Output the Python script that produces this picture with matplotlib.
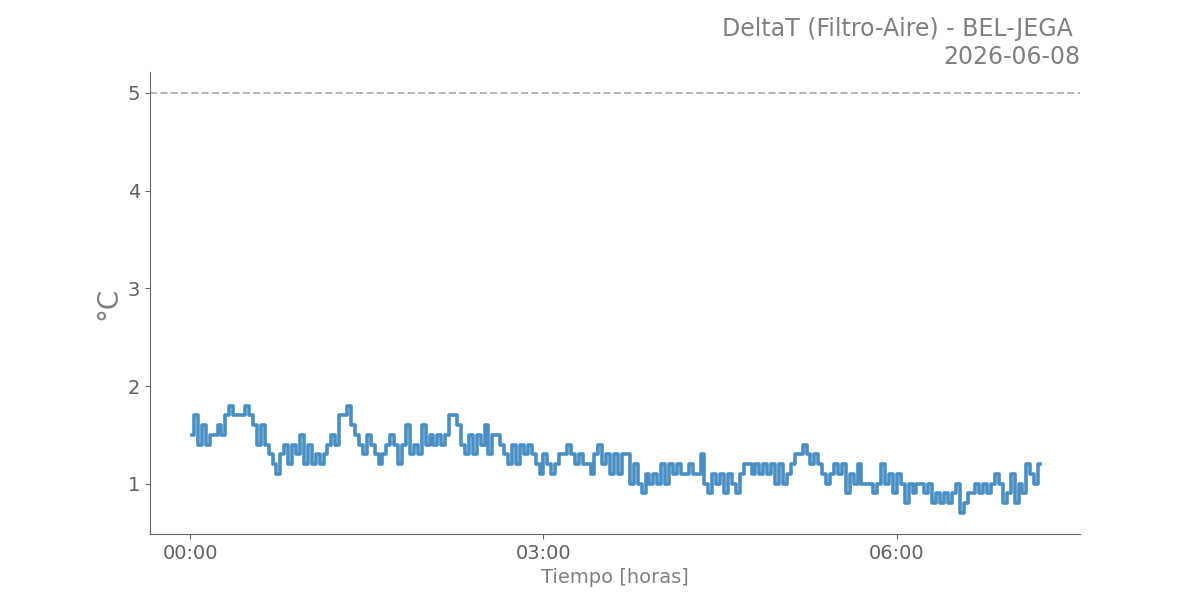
import numpy as np
import pandas as pd
import matplotlib
matplotlib.use("Agg")
import matplotlib.pyplot as plt
import matplotlib.dates as mdates

# -------------------------------------------------
# Data: DeltaT readings every 2 minutes
# -------------------------------------------------
delta_t = [
    1.5, 1.7, 1.4, 1.6, 1.4, 1.5, 1.5, 1.6, 1.5, 1.7,
    1.8, 1.7, 1.7, 1.7, 1.8, 1.7, 1.6, 1.4, 1.6, 1.4,
    1.3, 1.2, 1.1, 1.3, 1.4, 1.2, 1.4, 1.3, 1.5, 1.2,
    1.4, 1.2, 1.3, 1.2, 1.3, 1.4, 1.5, 1.4, 1.7, 1.7,
    1.8, 1.6, 1.5, 1.4, 1.3, 1.5, 1.4, 1.3, 1.2, 1.3,
    1.4, 1.5, 1.4, 1.2, 1.4, 1.6, 1.3, 1.4, 1.3, 1.6,
    1.4, 1.5, 1.4, 1.5, 1.4, 1.5, 1.7, 1.7, 1.6, 1.4,
    1.3, 1.5, 1.3, 1.5, 1.4, 1.6, 1.3, 1.5, 1.5, 1.4,
    1.3, 1.2, 1.4, 1.2, 1.4, 1.3, 1.4, 1.3, 1.2, 1.1,
    1.3, 1.2, 1.1, 1.2, 1.3, 1.3, 1.4, 1.3, 1.2, 1.3,
    1.2, 1.2, 1.1, 1.3, 1.4, 1.2, 1.3, 1.1, 1.3, 1.1,
    1.3, 1.3, 1.0, 1.2, 1.0, 0.9, 1.1, 1.0, 1.1, 1.0,
    1.2, 1.0, 1.2, 1.1, 1.2, 1.1, 1.1, 1.2, 1.1, 1.1,
    1.3, 1.0, 0.9, 1.1, 1.0, 1.1, 0.9, 1.1, 1.0, 0.9,
    1.1, 1.2, 1.2, 1.1, 1.2, 1.1, 1.2, 1.1, 1.2, 1.0,
    1.2, 1.0, 1.1, 1.2, 1.3, 1.3, 1.4, 1.3, 1.2, 1.3,
    1.2, 1.1, 1.0, 1.1, 1.2, 1.1, 1.2, 0.9, 1.1, 1.0,
    1.2, 1.0, 1.0, 1.0, 0.9, 1.0, 1.2, 1.0, 1.1, 0.9,
    1.1, 1.0, 0.8, 1.0, 0.9, 1.0, 1.0, 0.9, 1.0, 0.8,
    0.9, 0.8, 0.9, 0.8, 0.9, 1.0, 0.7, 0.8, 0.9, 0.9,
    1.0, 0.9, 1.0, 0.9, 1.0, 1.1, 1.0, 0.8, 0.9, 1.1,
    0.8, 1.0, 0.9, 1.2, 1.1, 1.0, 1.2,
]
threshold = 5.0
title_text = "DeltaT (Filtro-Aire) - BEL-JEGA \n2026-06-08"

times = pd.date_range("2026-06-08 00:01", periods=len(delta_t), freq="2min")

# -------------------------------------------------
# Plot
# -------------------------------------------------
fig = plt.figure(figsize=(12, 6), dpi=100)
ax = fig.add_axes([0.125, 0.11, 0.775, 0.77])

ax.plot(times, delta_t, color="#4a8fc4", linewidth=2.6, drawstyle="steps-mid")
ax.axhline(threshold, color="#b5b5b5", linestyle="--", linewidth=1.4)

day = pd.Timestamp("2026-06-08 00:00")
ax.set_xlim(day - pd.Timedelta(minutes=20.4), day + pd.Timedelta(minutes=453.3))
ax.set_ylim(0.485, 5.215)
ax.xaxis.set_major_locator(mdates.HourLocator(byhour=[0, 3, 6]))
ax.xaxis.set_major_formatter(mdates.DateFormatter("%H:%M"))

ax.set_title(title_text, loc="right", fontsize=17, color="#808080", pad=6)
ax.set_xlabel("Tiempo [horas]", fontsize=14, color="#808080")
ax.set_ylabel("°C", fontsize=20, color="#808080")

for side in ["top", "right"]:
    ax.spines[side].set_visible(False)
for side in ["left", "bottom"]:
    ax.spines[side].set_color("#666666")
ax.tick_params(colors="#666666", labelsize=14, labelcolor="#606060")

fig.savefig("out.png", dpi=100)
